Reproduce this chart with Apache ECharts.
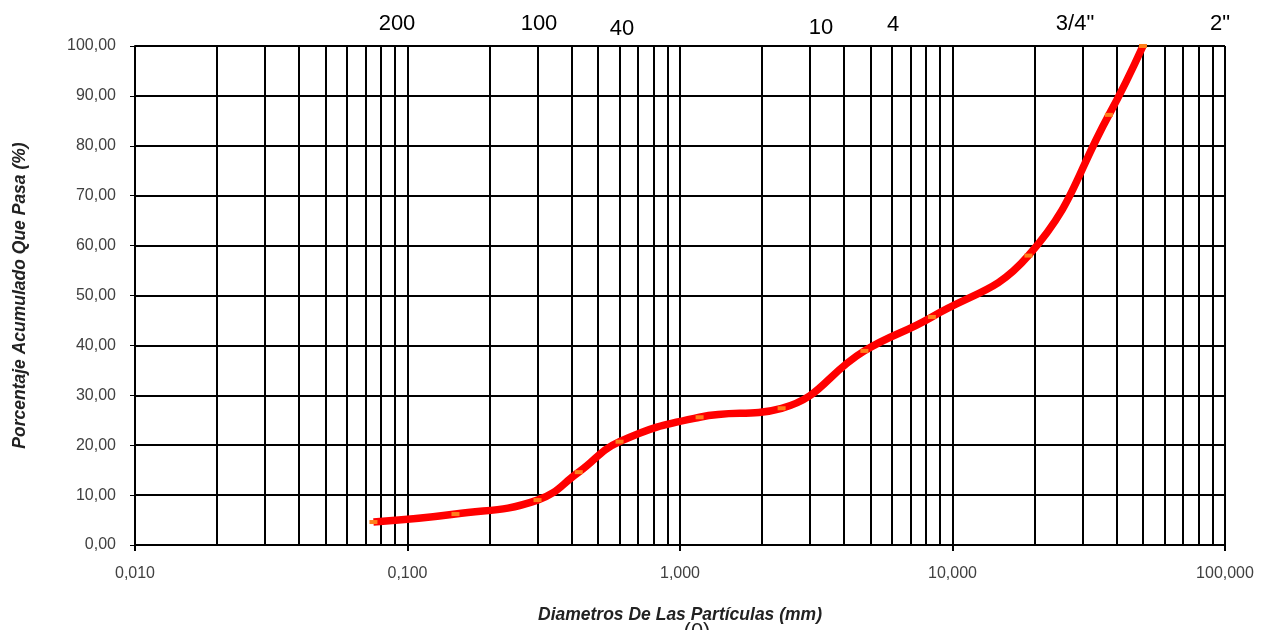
<!DOCTYPE html>
<html>
<head>
<meta charset="utf-8">
<script src="https://cdn.jsdelivr.net/npm/echarts@6.0.0/dist/echarts.min.js"></script>
<style>html,body{margin:0;padding:0;background:#fff}#c{width:1264px;height:630px}</style>
</head>
<body>
<div id="c"></div>
<script>
// Particle diameters (mm) and cumulative percent passing
var sizes = [0.075, 0.15, 0.3, 0.425, 0.6, 1.18, 2.36, 4.75, 8.4, 19, 37.5, 50];
var passing = [4.6, 6.2, 9.0, 14.6, 20.7, 25.6, 27.4, 38.9, 45.7, 58.0, 86.2, 100];
// Sieve labels drawn above the chart
var sieveLabels = ['200', '100', '40', '10', '4', '3/4"', '2"'];
// Log-axis decades for minor grid lines
var decades = [0.01, 0.1, 1, 10];
var minorSteps = [2, 3, 4, 5, 6, 7, 8, 9];

var minorValues = [];
decades.forEach(function (d) { minorSteps.forEach(function (m) { minorValues.push(+(d * m).toPrecision(6)); }); });

var chart = echarts.init(document.getElementById('c'), null, {renderer: 'canvas'});
var font = 'Liberation Sans, Arial, sans-serif';
var labelPos = [[397, 24], [539, 24], [622, 29], [821, 28], [893, 25], [1075, 24], [1220, 24]];

var option = {
  animation: false,
  backgroundColor: '#fff',
  grid: {left: 135, right: 39, top: 46, bottom: 85, containLabel: false},
  xAxis: {
    type: 'log', logBase: 10, min: 0.01, max: 100,
    name: 'Diametros De Las Partículas (mm)', nameLocation: 'middle', nameGap: 61,
    nameTextStyle: {fontFamily: font, fontSize: 17.5, fontWeight: 'bold', fontStyle: 'italic', color: '#222'},
    axisLine: {show: true, lineStyle: {color: '#000', width: 2}},
    axisTick: {show: true, length: 6, lineStyle: {color: '#000', width: 2}},
    axisLabel: {margin: 21, fontFamily: font, fontSize: 16, color: '#404040',
      formatter: function (v) { return Number(v).toFixed(3).replace('.', ','); }},
    splitLine: {show: true, lineStyle: {color: '#000', width: 2}}
  },
  yAxis: {
    type: 'value', min: 0, max: 100, interval: 10,
    name: 'Porcentaje Acumulado Que Pasa (%)', nameLocation: 'middle', nameGap: 106,
    nameTextStyle: {fontFamily: font, fontSize: 17.5, fontWeight: 'bold', fontStyle: 'italic', color: '#222'},
    axisLine: {show: true, lineStyle: {color: '#000', width: 2}},
    axisTick: {show: true, length: 5, lineStyle: {color: '#000', width: 1}},
    axisLabel: {margin: 19, fontFamily: font, fontSize: 16, color: '#404040',
      formatter: function (v) { return Number(v).toFixed(2).replace('.', ','); }},
    splitLine: {show: true, lineStyle: {color: '#000', width: 2}}
  },
  series: [
    {
      type: 'line', z: 1, silent: true,
      data: sizes.map(function (s, i) { return [s, passing[i]]; }),
      showSymbol: false, lineStyle: {width: 0, opacity: 0},
      markLine: {
        silent: true, symbol: 'none', animation: false,
        label: {show: false},
        lineStyle: {color: '#000', width: 2, type: 'solid'},
        data: minorValues.map(function (v) { return {xAxis: v}; })
      }
    },
    {
      type: 'line', z: 5,
      data: sizes.map(function (s, i) { return [s, passing[i]]; }),
      smooth: 0.45,
      lineStyle: {color: '#FF0000', width: 7.5},
      symbol: 'rect', symbolSize: [8, 4], showSymbol: true,
      itemStyle: {color: '#FF7F1A'}
    }
  ],
  graphic: sieveLabels.map(function (t, i) {
    return {type: 'text', x: labelPos[i][0], y: labelPos[i][1], z: 10,
      style: {text: t, fill: '#000', font: '22px ' + font, textAlign: 'center', textVerticalAlign: 'middle'}};
  }).concat([{type: 'text', x: 697, y: 632, z: 10,
      style: {text: '(0)', fill: '#222', font: '22px ' + font, textAlign: 'center', textVerticalAlign: 'middle'}}])
};
chart.setOption(option);
</script>
</body>
</html>
